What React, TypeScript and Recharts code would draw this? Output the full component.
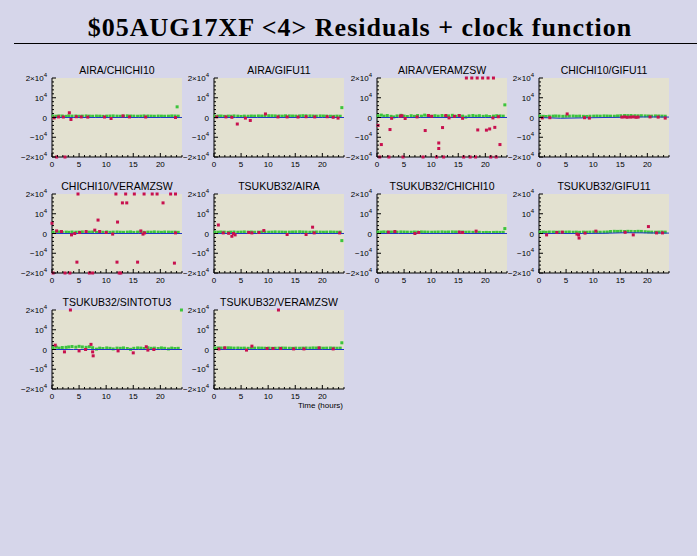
import React from "react";
import { ComposedChart, Scatter, XAxis, YAxis, ReferenceArea } from "recharts";

const TITLES = [
  "AIRA/CHICHI10",
  "AIRA/GIFU11",
  "AIRA/VERAMZSW",
  "CHICHI10/GIFU11",
  "CHICHI10/VERAMZSW",
  "TSUKUB32/AIRA",
  "TSUKUB32/CHICHI10",
  "TSUKUB32/GIFU11",
  "TSUKUB32/SINTOTU3",
  "TSUKUB32/VERAMZSW",
];

// scan times (hours) shared by the green residual points
const SCAN_T = [
  0.2, 0.8, 1.3, 1.9, 2.6, 3.1, 3.7, 4.4, 5.0, 5.6, 6.3, 6.9, 7.5, 8.2, 8.8, 9.4, 10.1, 10.7, 11.3,
  12.0, 12.6, 13.2, 13.9, 14.5, 15.1, 15.8, 16.4, 17.0, 17.7, 18.3, 18.9, 19.6, 20.2, 20.8, 21.5,
  22.1, 22.7, 23.3,
];

const G1 = [700, 650, 800, 750, 600, 850, 700, 750, 650, 700, 800, 700, 650, 750, 700, 600, 700, 750, 800, 700, 650, 700, 850, 750, 700, 650, 700, 800, 750, 700, 650, 750, 700, 650, 700, 800, 750, 700];
const G2 = [650, 700, 750, 600, 700, 650, 800, 700, 550, 700, 650, 750, 700, 800, 750, 700, 900, 850, 800, 750, 700, 850, 800, 750, 700, 800, 900, 850, 800, 750, 700, 800, 750, 700, 650, 600, 700, 650];
const G3 = [900, 1200, 700, 1000, 600, 300, 800, 1100, 700, 500, 900, 600, 1000, 700, 1200, 800, 600, 900, 700, 1000, 500, 800, 1100, 600, 900, 700, 200, 800, 1000, 700, 900, 600, 800, 500, 700, 900, 800, 700];
const G4 = [700, 600, 500, 650, 700, 750, 700, 600, 650, 700, 750, 650, 700, 600, 550, 650, 700, 750, 700, 800, 750, 700, 650, 800, 900, 1000, 950, 1000, 900, 850, 900, 800, 750, 700, 800, 750, 700, 650];
const G5 = [600, 700, 800, 550, 700, 600, 750, 650, 700, 800, 600, 700, 750, 500, 700, 650, 800, 600, 700, 750, 650, 600, 700, 800, 550, 700, 750, 600, 700, 650, 800, 700, 600, 750, 700, 650, 700, 600];
const G6 = [700, 650, 750, 700, 600, 700, 750, 650, 700, 800, 700, 750, 650, 700, 750, 700, 650, 700, 800, 750, 700, 650, 700, 750, 800, 850, 750, 700, 650, 700, 750, 700, 650, 700, 750, 700, 650, 700];
const G7 = [750, 700, 800, 700, 750, 650, 700, 800, 750, 700, 650, 750, 700, 800, 750, 700, 650, 700, 750, 800, 700, 750, 800, 750, 700, 750, 650, 700, 600, 550, 600, 500, 550, 500, 550, 600, 550, 600];
const G8 = [650, 700, 600, 750, 700, 650, 700, 600, 700, 750, 650, 700, 600, 700, 650, 700, 750, 700, 650, 700, 750, 1000, 1100, 1050, 1100, 1000, 1100, 1050, 1000, 1100, 1050, 900, 750, 700, 650, 700, 750, 700];
const G9 = [900, 1200, 700, 1000, 1100, 1300, 1500, 1200, 1600, 1300, 1100, 1400, 900, 200, 700, 500, 800, 600, 300, 700, 600, 800, 500, 100, 600, 800, 700, 500, 900, 600, 700, 500, 800, 600, 300, 700, 500, 600];
const G10 = [700, 800, 750, 700, 850, 800, 700, 750, 650, 700, 600, 650, 700, 750, 700, 650, 700, 600, 650, 700, 750, 700, 650, 600, 700, 650, 700, 750, 700, 800, 750, 700, 650, 700, 750, 700, 650, 700];

// [panel, time, residual]
const GREEN_OUTLIERS: [number, number, number][] = [
  [0, 23.1, 5400],
  [1, 23.6, 5000],
  [2, 23.6, 6400],
  [5, 23.6, -3600],
  [6, 23.6, 2500],
  [8, 23.9, 20000],
  [9, 23.6, 3400],
];

const R1 = [[0.4, -200], [1.2, 300], [2.1, 250], [3.2, 2400], [3.5, -1000], [4.5, 400], [5.4, 300], [6.6, 200], [9.7, 250], [10.9, -500], [13.1, 800], [14.3, 300], [17.3, 250], [22.8, 0], [0.85, -20000], [2.4, -20000]];
const R2 = [[0.5, 300], [2.2, 300], [3.3, 100], [4.3, -3300], [5.8, -300], [6.7, -1500], [9.5, 1800], [11.8, 300], [13.5, 300], [15.5, 250], [17.0, 400], [18.6, 300], [20.9, 400], [22.0, 100], [22.9, -300]];
const R3 = [[0.2, -4000], [0.8, -13700], [2.4, -6100], [2.7, -400], [4.3, 700], [4.6, 900], [5.2, -500], [7.4, 300], [8.9, -6600], [9.5, 1000], [10.1, 600], [11.4, -12900], [11.4, -15700], [12.1, -5100], [12.7, 1000], [13.3, -200], [14.3, 600], [15.2, 1000], [15.8, -400], [18.6, -6300], [20.2, -6400], [20.8, -5800], [21.4, -200], [21.75, -5000], [22.4, 400], [22.7, -13700], [16.5, 20000], [17.5, 20000], [18.5, 20000], [19.5, 20000], [20.5, 20000], [21.5, 20000], [0.5, -20000], [2.2, -20000], [4.8, -20000], [8.5, -20000], [11, -20000], [12.3, -20000], [16, -20000], [17.2, -20000], [18.2, -20000], [21, -20000], [22, -20000]];
const R4 = [[0.6, -200], [2.0, -100], [5.2, 1800], [8.4, -100], [9.3, -300], [15.3, 200], [15.8, 300], [16.3, 100], [16.9, 200], [17.4, 300], [17.9, 100], [18.3, 200], [20.5, 300], [22.0, 200], [23.3, -300]];
const R5 = [[0.0, 5200], [0.85, 1300], [1.75, 1000], [3.6, -700], [4.2, 0], [5.1, 500], [6.3, 1000], [7.9, 1700], [8.5, 6800], [8.8, 1000], [10.0, 500], [11.2, -300], [12.1, 5800], [13.0, 15500], [13.8, 15500], [16.4, 1300], [16.8, -300], [17.1, 300], [20.5, 15500], [22.8, 300], [4.6, -14500], [12.0, -14500], [15.8, -14500], [22.6, -15000], [4.8, 20000], [11.8, 20000], [13.6, 20000], [15.2, 20000], [17, 20000], [18.5, 20000], [19.4, 20000], [21.9, 20000], [22.8, 20000], [0.2, -20000], [2.4, -20000], [3.3, -20000], [6.9, -20000], [7.5, -20000], [12.4, -20000], [12.7, -20000]];
const R6 = [[0.8, 4300], [1.7, 300], [2.7, 100], [3.3, -1400], [3.6, 0], [3.9, -700], [6.4, 500], [7.0, 300], [8.3, 500], [9.2, 1500], [13.5, -500], [17.0, -500], [18.2, 3200], [18.5, 300], [23.2, 300]];
const R7 = [[2.1, 700], [3.3, 1000], [7.0, 0], [7.7, 500], [15.2, 700], [15.8, 500], [18.3, 1200]];
const R8 = [[1.4, -700], [3.3, 500], [4.3, 700], [7.0, -300], [7.3, -700], [7.4, -2300], [8.5, 200], [10.5, 1200], [15.9, 600], [17.4, -700], [20.2, 3500], [21.7, 300], [22.8, 300]];
const R9 = [[0.6, 2200], [2.3, -1200], [3.4, 20000], [5.0, -700], [6.2, 0], [7.2, 2600], [7.5, -1200], [7.6, -3200], [12.2, -700], [15.0, -1700], [17.4, 1400], [17.7, -300], [18.8, 0]];
const R10 = [[0.9, 300], [2.0, 850], [6.0, -300], [7.0, 1700], [9.8, 500], [10.9, 500], [12.3, 500], [14.7, 300], [16.6, 300], [19.4, 850], [22.0, 300], [11.9, 20000]];

// clock function sampled at these times
const CLOCK_T = [0, 4, 8, 12, 16, 20, 24];
const C1 = [0, 0, 0, 0, 0, 0, 0];
const C2 = [0, 0, 0, 0, 0, 0, 0];
const C3 = [0, 0, 0, 0, 0, 0, 0];
const C4 = [0, -400, -200, 0, 100, 300, 200];
const C5 = [0, 0, 0, 0, 0, 0, 0];
const C6 = [0, 0, 0, 0, 0, 0, 0];
const C7 = [0, 0, 0, 0, 0, 0, 0];
const C8 = [0, 0, 0, 100, 400, 300, 200];
const C9 = [0, 0, 0, 0, 0, 0, 0];
const C10 = [0, 0, 0, 0, 0, 0, 0];

const X_TICKS = [0, 5, 10, 15, 20];
const Y_TICKS = [-20000, -10000, 0, 10000, 20000];

const GREENS = [G1, G2, G3, G4, G5, G6, G7, G8, G9, G10];
const REDS = [R1, R2, R3, R4, R5, R6, R7, R8, R9, R10];
const CLOCKS = [C1, C2, C3, C4, C5, C6, C7, C8, C9, C10];

const COL_X = [52, 214, 377, 539];
const ROW_Y = [78, 194, 310];
const PW = 130;
const PH = 79;
const ML = 45;
const MT = 6;
const MR = 8;
const XH = 14;

const BG = "#d6d6ea";
const PLOT_BG = "#e3e1d0";
const GREEN = "#3cc43c";
const RED = "#c8104e";
const BLUE = "#2038c8";
const FONT = "'Liberation Sans', Arial, sans-serif";

const allX = Array.from({ length: 25 }, (_, i) => i);
const allY = Array.from({ length: 21 }, (_, i) => -20000 + i * 2000);

const yLabel = (v: number) => {
  if (v === 0) return ["0", ""];
  if (v === 20000) return ["2×10", "4"];
  if (v === 10000) return ["10", "4"];
  if (v === -10000) return ["−10", "4"];
  if (v === -20000) return ["−2×10", "4"];
  return ["", ""];
};

function BottomTick(props: any) {
  const { x, y, payload } = props;
  const major = X_TICKS.includes(payload.value);
  return (
    <g>
      <line x1={x} x2={x} y1={y} y2={y - (major ? 4 : 2)} stroke="#000" />
      {major && (
        <text x={x} y={y + 10} textAnchor="middle" fontSize={8} fontFamily={FONT} fill="#000">
          {payload.value}
        </text>
      )}
    </g>
  );
}

function TopTick(props: any) {
  const { x, y, payload } = props;
  const major = X_TICKS.includes(payload.value);
  return <line x1={x} x2={x} y1={y} y2={y + (major ? 4 : 2)} stroke="#000" />;
}

function LeftTick(props: any) {
  const { x, y, payload } = props;
  const major = Y_TICKS.includes(payload.value);
  const [main, sup] = yLabel(payload.value);
  return (
    <g>
      <line x1={x} x2={x + (major ? 4 : 2)} y1={y} y2={y} stroke="#000" />
      {major && (
        <text x={x - 5} y={y + 3} textAnchor="end" fontSize={8} fontFamily={FONT} fill="#000">
          {main}
          {sup && (
            <tspan dy={-4} fontSize={6}>
              {sup}
            </tspan>
          )}
        </text>
      )}
    </g>
  );
}

function RightTick(props: any) {
  const { x, y, payload } = props;
  const major = Y_TICKS.includes(payload.value);
  return <line x1={x} x2={x - (major ? 4 : 2)} y1={y} y2={y} stroke="#000" />;
}

const square = (color: string) => (p: any) =>
  <rect x={p.cx - 1.5} y={p.cy - 1.5} width={3} height={3} fill={color} />;

function Panel({ idx }: { idx: number }) {
  const left = COL_X[idx % 4];
  const top = ROW_Y[Math.floor(idx / 4)];
  const green = SCAN_T.map((t, i) => ({ t, v: GREENS[idx][i] }));
  GREEN_OUTLIERS.filter((o) => o[0] === idx).forEach((o) => green.push({ t: o[1], v: o[2] }));
  const red = REDS[idx].map(([t, v]) => ({ t, v }));
  const clock = CLOCK_T.map((t, i) => ({ t, v: CLOCKS[idx][i] }));

  return (
    <>
      <div
        style={{
          position: "absolute",
          left: left - 20,
          top: top - 13,
          width: PW + 40,
          textAlign: "center",
          fontFamily: FONT,
          fontSize: 10.5,
          lineHeight: "11px",
          color: "#000",
        }}
      >
        {TITLES[idx]}
      </div>
      <div style={{ position: "absolute", left: left - ML, top: top - MT }}>
        <ComposedChart
          width={ML + PW + MR}
          height={MT + PH + XH}
          margin={{ top: MT, right: MR, bottom: 0, left: 0 }}
        >
          <XAxis
            dataKey="t"
            type="number"
            domain={[0, 24]}
            ticks={allX}
            interval={0}
            tick={<BottomTick />}
            tickLine={false}
            tickSize={0}
            tickMargin={0}
            height={XH}
            axisLine={{ stroke: "#000" }}
          />
          <XAxis
            xAxisId="top"
            orientation="top"
            type="number"
            domain={[0, 24]}
            ticks={allX}
            interval={0}
            tick={<TopTick />}
            tickLine={false}
            tickSize={0}
            tickMargin={0}
            height={0}
            axisLine={{ stroke: "#000" }}
          />
          <YAxis
            dataKey="v"
            type="number"
            domain={[-20000, 20000]}
            ticks={allY}
            interval={0}
            tick={<LeftTick />}
            tickLine={false}
            tickSize={0}
            tickMargin={0}
            width={ML}
            axisLine={{ stroke: "#000" }}
          />
          <YAxis
            yAxisId="right"
            orientation="right"
            type="number"
            domain={[-20000, 20000]}
            ticks={allY}
            interval={0}
            tick={<RightTick />}
            tickLine={false}
            tickSize={0}
            tickMargin={0}
            width={0}
            axisLine={{ stroke: "#000" }}
          />
          <ReferenceArea
            x1={0}
            x2={24}
            y1={-20000}
            y2={20000}
            fill={PLOT_BG}
            fillOpacity={1}
            stroke="none"
          />
          <Scatter data={green} dataKey="v" shape={square(GREEN)} isAnimationActive={false} />
          <Scatter
            data={clock}
            dataKey="v"
            line={{ stroke: BLUE, strokeWidth: 1 }}
            shape={() => <g />}
            isAnimationActive={false}
          />
          <Scatter data={red} dataKey="v" shape={square(RED)} isAnimationActive={false} />
        </ComposedChart>
      </div>
    </>
  );
}

export default function App() {
  return (
    <div
      style={{
        position: "absolute",
        left: 0,
        top: 0,
        width: 697,
        height: 556,
        background: BG,
        overflow: "hidden",
      }}
    >
      <div
        style={{
          position: "absolute",
          left: 0,
          top: 13,
          width: 720,
          textAlign: "center",
          fontFamily: "'Liberation Serif', 'Times New Roman', serif",
          fontWeight: "bold",
          fontSize: 26,
          letterSpacing: 1,
          color: "#000",
        }}
      >
        $05AUG17XF &lt;4&gt; Residuals + clock function
      </div>
      <div
        style={{ position: "absolute", left: 14, top: 43, width: 683, height: 1, background: "#000" }}
      />
      {TITLES.map((_, i) => (
        <Panel key={i} idx={i} />
      ))}
      <div
        style={{
          position: "absolute",
          left: 243,
          top: 401,
          width: 100,
          textAlign: "right",
          fontFamily: FONT,
          fontSize: 8,
          color: "#000",
        }}
      >
        Time (hours)
      </div>
    </div>
  );
}
